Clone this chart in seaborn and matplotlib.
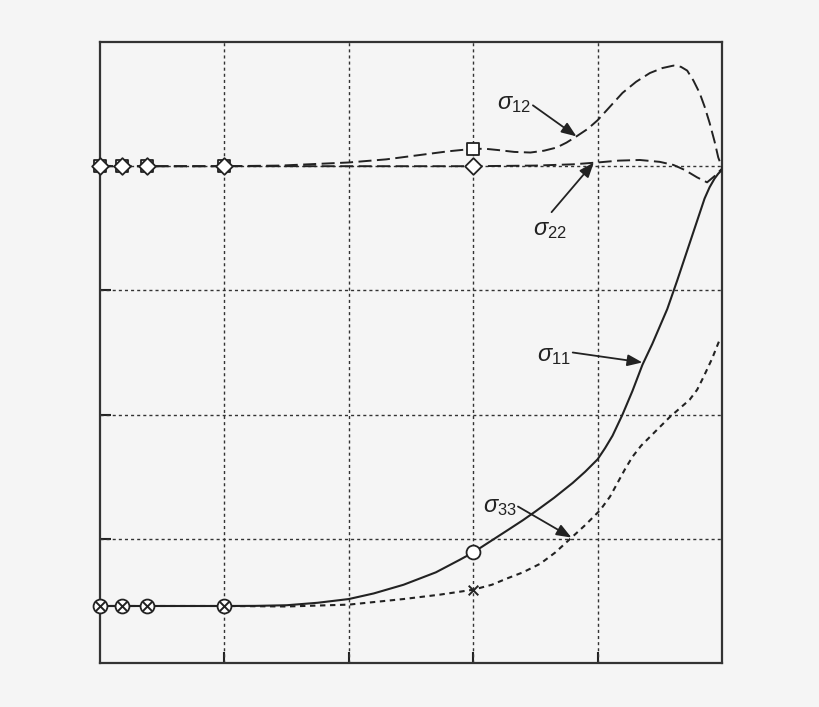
import matplotlib
matplotlib.use("Agg")
import matplotlib.pyplot as plt
import seaborn as sns

# curve readings (x, stress level)
s11_x = [0.0, 0.18, 0.38, 1.0, 1.25, 1.5, 1.75, 2.0, 2.2, 2.44, 2.7, 2.89, 3.0, 3.1, 3.27, 3.4, 3.5, 3.65, 3.8, 3.9, 4.0,
         4.06, 4.12, 4.20, 4.28, 4.36, 4.44, 4.50, 4.56, 4.64, 4.72, 4.80, 4.86, 4.90, 4.94, 4.97, 5.0]
s11_y = [0.459, 0.459, 0.459, 0.459, 0.46, 0.465, 0.485, 0.515, 0.56, 0.63, 0.73, 0.83, 0.89, 0.955, 1.065, 1.15, 1.22, 1.33, 1.45, 1.54, 1.64,
         1.73, 1.83, 2.0, 2.19, 2.40, 2.57, 2.71, 2.85, 3.08, 3.32, 3.56, 3.74, 3.83, 3.90, 3.94, 3.97]

s33_x = [0.0, 0.18, 0.38, 1.0, 1.5, 2.0, 2.44, 2.73, 3.0, 3.15, 3.27, 3.4, 3.54, 3.66, 3.78, 3.9, 4.02, 4.1, 4.16,
         4.22, 4.28, 4.35, 4.42, 4.5, 4.58, 4.66, 4.74, 4.8, 4.85, 4.92, 4.98]
s33_y = [0.459, 0.459, 0.459, 0.459, 0.455, 0.47, 0.515, 0.55, 0.59, 0.63, 0.68, 0.73, 0.80, 0.89, 1.0, 1.11, 1.23, 1.34, 1.45,
         1.56, 1.66, 1.75, 1.82, 1.90, 1.98, 2.05, 2.12, 2.20, 2.30, 2.45, 2.60]

s12_x = [0.0, 0.18, 0.38, 1.0, 1.45, 2.0, 2.3, 2.57, 2.8, 3.0, 3.1, 3.2, 3.33, 3.46, 3.57, 3.67, 3.75, 3.83, 3.92, 4.0,
         4.1, 4.2, 4.31, 4.42, 4.52, 4.61, 4.67, 4.72, 4.77, 4.82, 4.86, 4.90, 4.94, 4.97, 5.0]
s12_y = [4.0, 4.0, 4.0, 4.0, 4.005, 4.03, 4.055, 4.09, 4.12, 4.14, 4.14, 4.13, 4.115, 4.11, 4.125, 4.15, 4.19, 4.24, 4.30, 4.37,
         4.48, 4.59, 4.68, 4.75, 4.79, 4.81, 4.80, 4.77, 4.69, 4.59, 4.48, 4.35, 4.20, 4.07, 3.99]

s22_x = [0.0, 0.18, 0.38, 1.0, 2.0, 3.0, 3.5, 3.8, 4.0, 4.17, 4.34, 4.5, 4.61, 4.7, 4.8, 4.88, 4.94, 5.0]
s22_y = [4.0, 4.0, 4.0, 4.0, 4.0, 4.0, 4.005, 4.015, 4.03, 4.045, 4.05, 4.035, 4.01, 3.97, 3.91, 3.87, 3.92, 3.98]

mark_x = [0.0, 0.18, 0.38, 1.0]
mark_x3 = [3.0]
top_level = [4.0, 4.0, 4.0, 4.0]
low_level = [0.459, 0.459, 0.459, 0.459]
s12_mark3 = [4.14]
s22_mark3 = [4.0]
s11_mark3 = [0.89]
s33_mark3 = [0.59]

grid_ticks = [1, 2, 3, 4]

labels = [r"$\sigma_{\mathrm{12}}$", r"$\sigma_{\mathrm{22}}$", r"$\sigma_{\mathrm{11}}$", r"$\sigma_{\mathrm{33}}$"]
label_pos = [(3.19, 4.50), (3.48, 3.49), (3.51, 2.47), (3.08, 1.26)]
arrow_from = [(3.48, 4.49), (3.63, 3.63), (3.80, 2.50), (3.36, 1.26)]
arrow_to = [(3.83, 4.24), (3.97, 4.03), (4.36, 2.42), (3.79, 1.01)]

bg = "#f5f5f5"
ink = "#222222"

sns.set_style("white", {"axes.facecolor": bg, "figure.facecolor": bg})
plt.rcParams["font.family"] = ["Liberation Sans", "DejaVu Sans"]
plt.rcParams["mathtext.fontset"] = "custom"
plt.rcParams["mathtext.rm"] = "Liberation Sans"
plt.rcParams["mathtext.it"] = "Liberation Sans:italic"

fig = plt.figure(figsize=(8.2, 7.07), dpi=100)
ax = fig.add_axes([100 / 820, 44 / 707, 622 / 820, 621 / 707])

# dotted grid
for g in grid_ticks:
    ax.axvline(g, color="#333333", lw=1.0, ls=(0, (2.2, 2.2)), zorder=1)
    ax.axhline(g, color="#333333", lw=1.0, ls=(0, (2.2, 2.2)), zorder=1)

sns.lineplot(x=s11_x, y=s11_y, ax=ax, color=ink, lw=1.5, sort=False, estimator=None, zorder=3)
sns.lineplot(x=s33_x, y=s33_y, ax=ax, color=ink, lw=1.5, ls=(0, (2.6, 2.2)), sort=False, estimator=None, zorder=3)
sns.lineplot(x=s12_x, y=s12_y, ax=ax, color=ink, lw=1.4, ls=(0, (6.7, 2.8)), sort=False, estimator=None, zorder=3)
sns.lineplot(x=s22_x, y=s22_y, ax=ax, color=ink, lw=1.4, ls=(0, (6.7, 2.8)), sort=False, estimator=None, zorder=3)

# markers
sns.scatterplot(x=mark_x + mark_x3, y=top_level + s12_mark3, ax=ax, marker="s", s=80,
                color="white", edgecolor=ink, linewidth=1.3, zorder=5, clip_on=False)
sns.scatterplot(x=mark_x + mark_x3, y=top_level + s22_mark3, ax=ax, marker="D", s=72,
                color="white", edgecolor=ink, linewidth=1.3, zorder=6, clip_on=False)
sns.scatterplot(x=mark_x + mark_x3, y=low_level + s11_mark3, ax=ax, marker="o", s=100,
                color="white", edgecolor=ink, linewidth=1.3, zorder=5, clip_on=False)
sns.scatterplot(x=mark_x + mark_x3, y=low_level + s33_mark3, ax=ax, marker="x", s=48,
                color=ink, linewidth=1.4, zorder=6, clip_on=False)

for lab, pos, a0, a1 in zip(labels, label_pos, arrow_from, arrow_to):
    ax.text(pos[0], pos[1], lab, fontsize=17, color=ink, ha="left", va="center", zorder=7)
    ax.annotate("", xy=a1, xytext=a0,
                arrowprops=dict(arrowstyle="-|>,head_length=0.9,head_width=0.35",
                                color=ink, lw=1.3, shrinkA=0, shrinkB=0), zorder=7)

ax.set_xlim(0, 5)
ax.set_ylim(0, 5)
ax.set_xticks(grid_ticks)
ax.set_yticks(grid_ticks)
ax.set_xticklabels([])
ax.set_yticklabels([])
ax.tick_params(direction="in", length=8, width=1.5, color=ink, bottom=True, left=True, top=False, right=False)
for sp in ax.spines.values():
    sp.set_color("#333333")
    sp.set_linewidth(1.6)
    sp.set_visible(True)
ax.set_xlabel("")
ax.set_ylabel("")

fig.savefig("out.png", dpi=100, facecolor=bg)
